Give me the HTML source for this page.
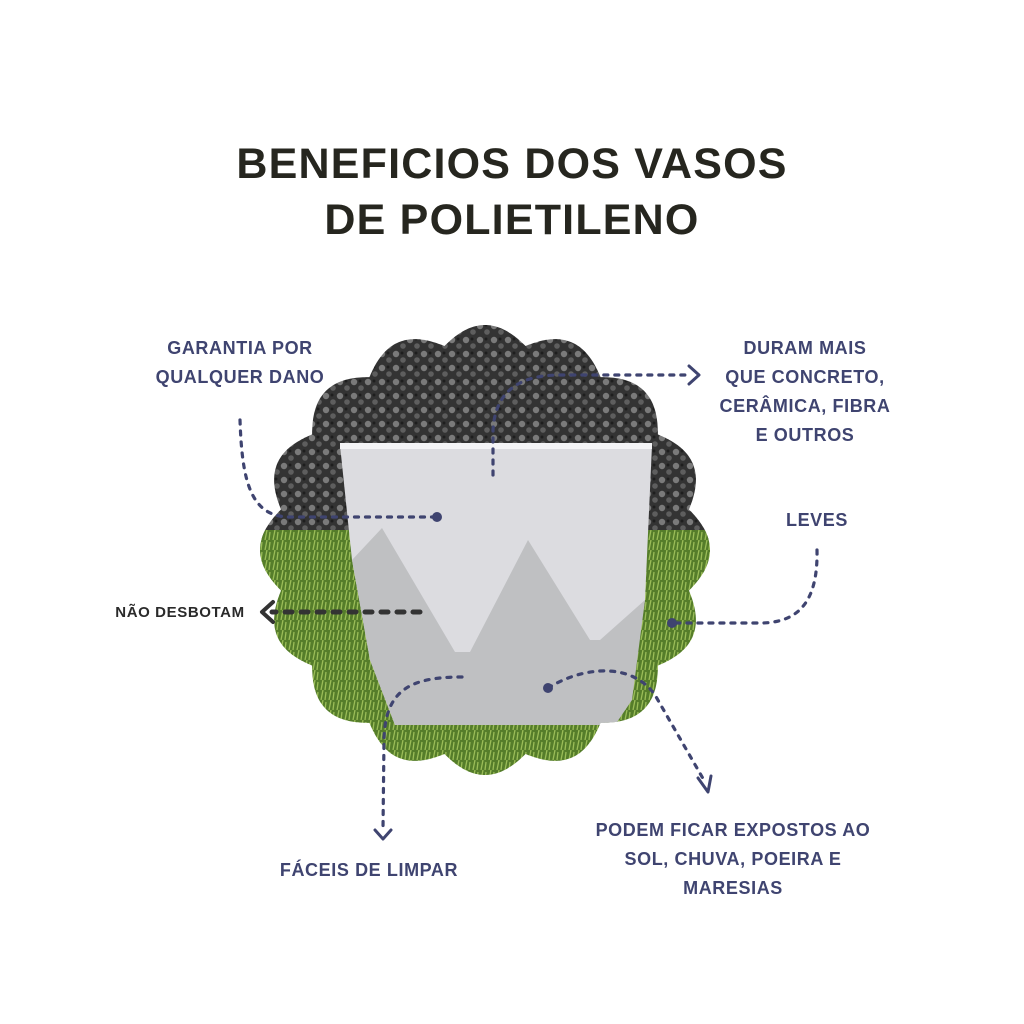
<!DOCTYPE html>
<html><head><meta charset="utf-8"><style>
html,body{margin:0;padding:0;background:#fff;}
body{width:1024px;height:1024px;position:relative;overflow:hidden;font-family:"Liberation Sans",sans-serif;}
.t{position:absolute;left:0;width:1024px;text-align:center;font-weight:bold;font-size:43px;color:#26261f;letter-spacing:1.2px;}
.l{position:absolute;text-align:center;font-weight:bold;font-size:18px;color:#3f4470;line-height:29px;letter-spacing:0.6px;}
</style></head><body>
<div class="t" style="top:140px">BENEFICIOS DOS VASOS</div>
<div class="t" style="top:196px">DE POLIETILENO</div>
<svg width="1024" height="1024" style="position:absolute;left:0;top:0">
<defs>
<clipPath id="c"><path id="sc" d=""/></clipPath>
<pattern id="g" width="14" height="14" patternUnits="userSpaceOnUse">
<rect width="14" height="14" fill="#333"/><circle cx="4" cy="4" r="3.2" fill="#7a7a7a"/><circle cx="11" cy="10" r="2.8" fill="#5e5e5e"/><circle cx="10" cy="3" r="1.5" fill="#1e1e1e"/>
</pattern>
<pattern id="gr" width="8" height="10" patternUnits="userSpaceOnUse">
<rect width="8" height="10" fill="#557d2a"/><path d="M1 10 L3 0 M5 10 L6 2" stroke="#9bbd58" stroke-width="1.3"/>
</pattern>
</defs>
<g clip-path="url(#c)">
<rect x="200" y="300" width="600" height="240" fill="url(#g)"/>
<rect x="200" y="530" width="600" height="300" fill="url(#gr)"/>
<polygon points="340,445 652,445 645,600 630,700 615,725 395,725 370,660 352,560" fill="#dcdce0"/>
<polygon points="352,560 382,528 455,652 470,652 528,540 590,640 600,640 645,600 632,700 615,725 395,725 370,660" fill="#bfc0c2"/>
<rect x="340" y="443" width="312" height="6" fill="#f4f4f6"/>
</g>
<g fill="none" stroke="#3f4470" stroke-width="3.2" stroke-linecap="round" stroke-dasharray="4 7">
<path d="M240 420 C242 480 250 517 290 517 L437 517"/>
<path d="M493 475 L493 430 C495 395 515 375 560 375 L690 375"/>
<path d="M817 550 C818 600 800 623 760 623 L672 623"/>
<path d="M462 677 C410 677 385 690 384 740 L383 828"/>
<path d="M548 688 C580 668 630 660 655 695 L705 782"/>
</g>
<g fill="#3f4470"><circle cx="437" cy="517" r="5"/><circle cx="672" cy="623" r="5"/><circle cx="548" cy="688" r="5"/></g>
<g fill="none" stroke="#3f4470" stroke-width="3" stroke-linecap="round" stroke-linejoin="round">
<path d="M689 366 L699 375 L689 384"/>
<path d="M375 830 L383 839 L391 830"/>
<path d="M698 778 L708 792 L711 776"/>
</g>
<path d="M420 612 L272 612" stroke="#333" stroke-width="5" stroke-linecap="round" stroke-dasharray="7 9" fill="none"/>
<path d="M273 602 L262 612 L273 622" stroke="#333" stroke-width="4" fill="none" stroke-linecap="round" stroke-linejoin="round"/>
</svg>
<script>
(function(){var cx=485,cy=550,n=16,d="";for(var i=0;i<=960;i++){var t=i/960*2*Math.PI;var r=208+17*Math.abs(Math.cos(n*t/2));var x=cx+r*Math.cos(t),y=cy+r*Math.sin(t);d+=(i?"L":"M")+x.toFixed(1)+" "+y.toFixed(1);}document.getElementById("sc").setAttribute("d",d+"Z");})();
</script>
<div class="l" style="left:125px;top:334px;width:230px">GARANTIA POR<br>QUALQUER DANO</div>
<div class="l" style="left:695px;top:334px;width:220px">DURAM MAIS<br>QUE CONCRETO,<br>CERÂMICA, FIBRA<br>E OUTROS</div>
<div class="l" style="left:757px;top:506px;width:120px">LEVES</div>
<div class="l" style="left:100px;top:598px;width:160px;color:#2a2a2a;font-size:15px">NÃO DESBOTAM</div>
<div class="l" style="left:259px;top:856px;width:220px">FÁCEIS DE LIMPAR</div>
<div class="l" style="left:563px;top:816px;width:340px">PODEM FICAR EXPOSTOS AO<br>SOL, CHUVA, POEIRA E<br>MARESIAS</div>
</body></html>
